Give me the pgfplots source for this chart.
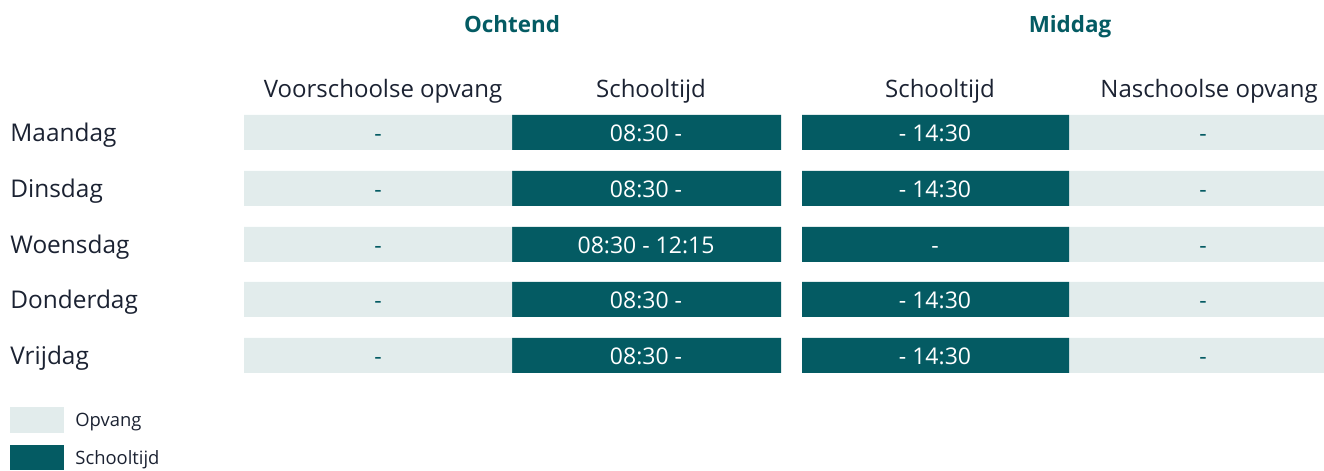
\documentclass[border=0pt]{standalone}
\usepackage{pgfplots}
\usepackage{pgfplotstable}
\pgfplotsset{compat=1.18}
\usepackage{fontspec}
\setmainfont{Open Sans}
\definecolor{teal1}{HTML}{045B63}
\definecolor{light1}{HTML}{E2ECEC}
\definecolor{txt}{HTML}{1B2232}
\pgfplotstableread{
y off c1 c2 gap c3 c4
132.5 244 268 269 21 267 255
188.5 244 268 269 21 267 255
244.5 244 268 269 21 267 255
299.5 244 268 269 21 267 255
355.5 244 268 269 21 267 255
}\rows
\begin{document}
\begin{tikzpicture}
\begin{axis}[
  set layers,
  every axis plot/.append style={on layer=axis background},
  scale only axis, width=662pt, height=235pt,
  xmin=0, xmax=1324, ymin=0, ymax=470, y dir=reverse,
  hide axis, clip=false,
  xbar stacked, bar width=35, bar shift=0pt,
]
\addplot[draw=none, fill=none] table[x=off, y=y]{\rows};
\addplot[draw=none, fill=light1] table[x=c1, y=y]{\rows};
\addplot[draw=none, fill=teal1] table[x=c2, y=y]{\rows};
\addplot[draw=none, fill=none] table[x=gap, y=y]{\rows};
\addplot[draw=none, fill=teal1] table[x=c3, y=y]{\rows};
\addplot[draw=none, fill=light1] table[x=c4, y=y]{\rows};
\path (axis cs:0,0) rectangle (axis cs:1324,470);
% headers
\tikzset{gh/.style={text=teal1, font=\fontsize{11.2}{13}\selectfont\bfseries, anchor=base, inner sep=0pt}}
\node[gh] at (axis cs:512,33) {Ochtend};
\node[gh] at (axis cs:1070,33) {Middag};
\tikzset{hd/.style={text=txt, font=\fontsize{12}{14}\selectfont, anchor=base, inner sep=0pt}}
\node[hd] at (axis cs:383,98) {Voorschoolse opvang};
\node[hd] at (axis cs:651,98) {Schooltijd};
\node[hd] at (axis cs:940,98) {Schooltijd};
\node[hd] at (axis cs:1209,98) {Naschoolse opvang};
% days
\tikzset{dy/.style={text=txt, font=\fontsize{12.2}{14}\selectfont, anchor=base west, inner sep=0pt}}
\node[dy] at (axis cs:10,141.5) {Maandag};
\node[dy] at (axis cs:10,197.5) {Dinsdag};
\node[dy] at (axis cs:10,253.5) {Woensdag};
\node[dy] at (axis cs:10,308.5) {Donderdag};
\node[dy] at (axis cs:10,364.5) {Vrijdag};
% cell texts
\tikzset{lt/.style={text=teal1, font=\fontsize{11.5}{13}\selectfont, anchor=base, inner sep=0pt},
         dk/.style={text=white, font=\fontsize{11.5}{13}\selectfont, anchor=base, inner sep=0pt}}
\node[lt] at (axis cs:378,142) {-};
\node[lt] at (axis cs:378,198) {-};
\node[lt] at (axis cs:378,254) {-};
\node[lt] at (axis cs:378,309) {-};
\node[lt] at (axis cs:378,365) {-};
\node[lt] at (axis cs:1203,142) {-};
\node[lt] at (axis cs:1203,198) {-};
\node[lt] at (axis cs:1203,254) {-};
\node[lt] at (axis cs:1203,309) {-};
\node[lt] at (axis cs:1203,365) {-};
\node[dk] at (axis cs:646,142) {08:30 -};
\node[dk] at (axis cs:646,198) {08:30 -};
\node[dk] at (axis cs:646,254) {08:30 - 12:15};
\node[dk] at (axis cs:646,309) {08:30 -};
\node[dk] at (axis cs:646,365) {08:30 -};
\node[dk] at (axis cs:935,142) {- 14:30};
\node[dk] at (axis cs:935,198) {- 14:30};
\node[dk] at (axis cs:935,254) {-};
\node[dk] at (axis cs:935,309) {- 14:30};
\node[dk] at (axis cs:935,365) {- 14:30};
% legend
\fill[light1] (axis cs:10,407) rectangle (axis cs:64,433);
\fill[teal1] (axis cs:10,445) rectangle (axis cs:64,470);
\node[text=txt, font=\fontsize{9.2}{11}\selectfont, anchor=base west, inner sep=0pt] at (axis cs:75,427) {Opvang};
\node[text=txt, font=\fontsize{9.2}{11}\selectfont, anchor=base west, inner sep=0pt] at (axis cs:75,465) {Schooltijd};
\end{axis}
\end{tikzpicture}
\end{document}
